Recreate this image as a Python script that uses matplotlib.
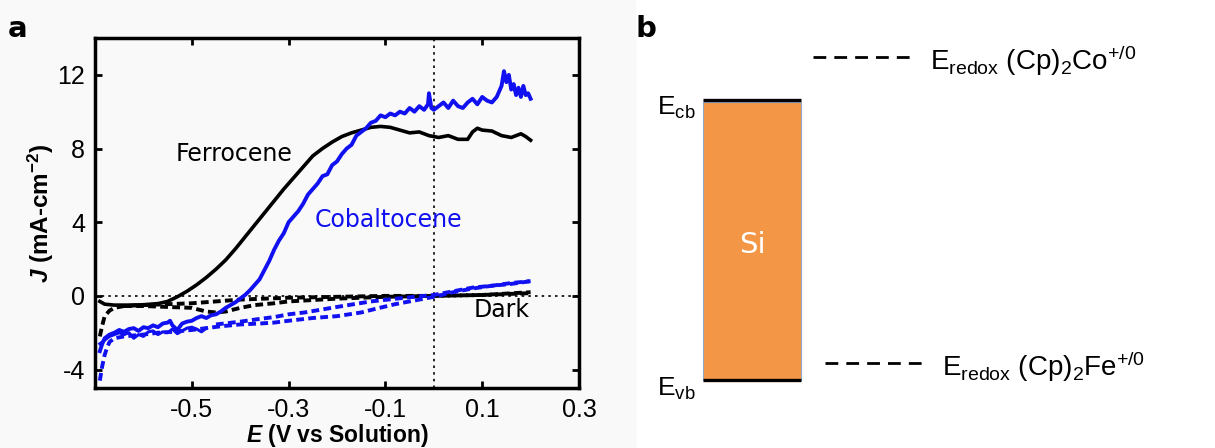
import numpy as np
import matplotlib
matplotlib.use("Agg")
import matplotlib.pyplot as plt
from matplotlib.patches import Rectangle

plt.rcParams.update({"font.family": "Liberation Sans", "mathtext.fontset": "custom",
                     "mathtext.rm": "Liberation Sans", "mathtext.it": "Liberation Sans:italic",
                     "mathtext.bf": "Liberation Sans:bold", "mathtext.bfit": "Liberation Sans:italic:bold",
                     "axes.unicode_minus": False})

BLUE = "#1010f0"
ORANGE = "#f39646"

# --- panel a: J-E curves (E in V vs solution, J in mA cm^-2) ---
ferro_E = [-0.69, -0.68, -0.66, -0.63, -0.60, -0.57, -0.55, -0.53, -0.51, -0.49, -0.47, -0.45,
           -0.43, -0.41, -0.39, -0.37, -0.35, -0.33, -0.31, -0.29, -0.27, -0.25, -0.23, -0.21,
           -0.19, -0.17, -0.15, -0.13, -0.11, -0.09, -0.07, -0.05, -0.03, -0.01, 0.01, 0.03,
           0.05, 0.07, 0.08, 0.09, 0.10, 0.12, 0.14, 0.16, 0.18, 0.19, 0.20]
ferro_J = [-0.3, -0.45, -0.5, -0.5, -0.48, -0.42, -0.3, -0.05, 0.25, 0.6, 1.0, 1.45,
           1.95, 2.55, 3.2, 3.85, 4.5, 5.15, 5.8, 6.4, 7.0, 7.6, 8.0, 8.35,
           8.65, 8.85, 9.0, 9.15, 9.2, 9.15, 9.0, 8.85, 8.9, 8.7, 8.6, 8.7,
           8.5, 8.5, 8.9, 9.1, 9.0, 8.95, 8.7, 8.6, 8.8, 8.65, 8.45]

cobalt_E = [-0.690, -0.685, -0.680, -0.670, -0.660, -0.650, -0.640, -0.630, -0.620, -0.610,
            -0.600, -0.590, -0.580, -0.570, -0.560, -0.550, -0.545, -0.540, -0.530, -0.520,
            -0.510, -0.500, -0.490, -0.480, -0.470, -0.460, -0.450, -0.440, -0.430, -0.420,
            -0.410, -0.400, -0.390, -0.380, -0.370, -0.360, -0.350, -0.340, -0.330, -0.320,
            -0.310, -0.300, -0.290, -0.280, -0.270, -0.260, -0.250, -0.240, -0.230, -0.220,
            -0.210, -0.200, -0.190, -0.180, -0.170, -0.160, -0.150, -0.140, -0.130, -0.120,
            -0.110, -0.100, -0.090, -0.080, -0.070, -0.060, -0.050, -0.040, -0.030, -0.020,
            -0.012, -0.010, -0.005, 0.000, 0.010, 0.020, 0.030, 0.040, 0.050, 0.060,
            0.070, 0.080, 0.090, 0.100, 0.110, 0.120, 0.130, 0.140, 0.145, 0.150,
            0.155, 0.160, 0.165, 0.170, 0.175, 0.180, 0.185, 0.190, 0.195, 0.200]
cobalt_J = [-3.0, -2.6, -2.3, -2.1, -2.0, -1.85, -1.95, -1.8, -1.75, -1.9,
            -1.7, -1.75, -1.6, -1.7, -1.5, -1.45, -1.35, -1.6, -1.85, -1.5,
            -1.4, -1.35, -1.2, -1.1, -1.2, -1.05, -1.0, -0.85, -0.65, -0.5,
            -0.35, -0.15, 0.05, 0.3, 0.6, 0.9, 1.4, 1.9, 2.5, 3.0,
            3.4, 4.0, 4.3, 4.6, 5.0, 5.5, 5.8, 6.1, 6.5, 6.6,
            7.1, 7.3, 7.7, 8.0, 8.2, 8.7, 8.9, 9.1, 9.4, 9.5,
            9.8, 9.7, 9.9, 9.8, 10.0, 9.9, 10.2, 10.0, 10.3, 10.1,
            10.4, 11.0, 10.2, 10.1, 10.3, 10.5, 10.2, 10.6, 10.3, 10.2,
            10.5, 10.7, 10.4, 10.8, 10.6, 10.5, 10.8, 11.4, 12.2, 11.6,
            12.0, 11.2, 11.5, 10.9, 11.3, 10.8, 11.4, 10.9, 11.0, 10.7]

cobalt_ret_E = [-0.69, -0.68, -0.67, -0.66, -0.65, -0.64, -0.63, -0.62, -0.61, -0.60, -0.59,
                -0.58, -0.57, -0.56, -0.55, -0.54, -0.53, -0.52, -0.51, -0.50, -0.49, -0.48, -0.47]
cobalt_ret_J = [-2.6, -2.4, -2.2, -2.1, -2.0, -2.1, -2.0, -2.3, -2.1, -2.2, -1.95,
                -1.9, -2.1, -1.95, -2.0, -1.8, -2.05, -1.9, -1.75, -1.7, -1.8, -1.95, -1.75]

dark_co_E1 = [-0.69, -0.685, -0.68, -0.675, -0.67, -0.66, -0.64, -0.62, -0.60, -0.57, -0.54, -0.50,
              -0.47, -0.44, -0.40, -0.36, -0.33, -0.30, -0.25, -0.20, -0.15, -0.12, -0.08, -0.04,
              0.0, 0.04, 0.08, 0.12, 0.16, 0.20]
dark_co_J1 = [-4.6, -3.8, -3.2, -2.8, -2.5, -2.3, -2.2, -2.15, -2.1, -2.0, -1.95, -1.85,
              -1.75, -1.65, -1.55, -1.5, -1.45, -1.35, -1.2, -1.1, -0.9, -0.7, -0.45, -0.25,
              -0.05, 0.2, 0.4, 0.55, 0.65, 0.8]
dark_co_E2 = [-0.45, -0.40, -0.36, -0.33, -0.30, -0.267, -0.20, -0.13, -0.06, 0.0, 0.04, 0.08,
              0.12, 0.16, 0.20]
dark_co_J2 = [-1.55, -1.4, -1.25, -1.15, -1.0, -0.9, -0.6, -0.3, -0.1, 0.05, 0.25, 0.45,
              0.55, 0.7, 0.8]

dark_fe_E1 = [-0.69, -0.685, -0.68, -0.67, -0.66, -0.64, -0.60, -0.55, -0.50, -0.45, -0.40,
              -0.35, -0.30, -0.20, -0.10, 0.0, 0.10, 0.20]
dark_fe_J1 = [-2.2, -1.6, -1.1, -0.8, -0.65, -0.55, -0.5, -0.45, -0.4, -0.3, -0.2,
              -0.15, -0.1, -0.05, 0.0, 0.0, 0.05, 0.2]
dark_fe_E2 = [-0.64, -0.60, -0.55, -0.50, -0.47, -0.45, -0.43, -0.40, -0.37, -0.33, -0.30,
              -0.20, -0.10, 0.0, 0.10, 0.20]
dark_fe_J2 = [-0.55, -0.55, -0.6, -0.65, -0.85, -0.9, -0.85, -0.65, -0.5, -0.4, -0.3,
              -0.15, -0.05, 0.0, 0.05, 0.15]

x_ticks = [-0.5, -0.3, -0.1, 0.1, 0.3]
y_ticks = [-4, 0, 4, 8, 12]

# --- panel b: band diagram energies (eV, relative to Si conduction band) ---
band_cb, band_vb = 0.0, -1.12
redox_levels = [0.17, -1.05]
redox_labels = [r"$\mathrm{E_{redox}\ (Cp)_2Co^{+/0}}$", r"$\mathrm{E_{redox}\ (Cp)_2Fe^{+/0}}$"]

W, H = 1215, 448
fig = plt.figure(figsize=(W / 100, H / 100), dpi=100, facecolor="white")
fig.patches.append(Rectangle((0, 0), 635 / W, 1, transform=fig.transFigure,
                             color="#f9f9f9", zorder=-10))

ax = fig.add_axes([95 / W, 60 / H, 484 / W, 350 / H])
ax.set_facecolor("none")
dash = (0, (2.0, 1.1))
ax.axhline(0, color="black", ls=(0, (1.5, 2.5)), lw=1.2, zorder=1)
ax.axvline(0, color="black", ls=(0, (1.5, 2.5)), lw=1.2, zorder=1)
ax.plot(dark_fe_E1, dark_fe_J1, color="black", ls=dash, lw=2.8)
ax.plot(dark_fe_E2, dark_fe_J2, color="black", ls=dash, lw=2.8)
ax.plot(dark_co_E1, dark_co_J1, color=BLUE, ls=dash, lw=2.8)
ax.plot(dark_co_E2, dark_co_J2, color=BLUE, ls=dash, lw=2.8)
ax.plot(ferro_E, ferro_J, color="black", lw=2.6)
ax.plot(cobalt_ret_E, cobalt_ret_J, color=BLUE, lw=2.2)
ax.plot(cobalt_E, cobalt_J, color=BLUE, lw=2.8)

ax.text(-0.533, 7.7, "Ferrocene", family="DejaVu Sans", fontsize=17, va="center", ha="left")
ax.text(-0.246, 4.1, "Cobaltocene", family="DejaVu Sans", fontsize=17, va="center", ha="left",
        color=BLUE)
ax.text(0.083, -0.75, "Dark", family="DejaVu Sans", fontsize=17, va="center", ha="left")

ax.set_xlim(-0.7, 0.3)
ax.set_ylim(-5, 14)
ax.set_xticks(x_ticks)
ax.set_xticklabels([f"{t:.1f}" for t in x_ticks])
ax.set_yticks(y_ticks)
ax.tick_params(direction="in", top=True, right=True, length=5, width=2, labelsize=18, pad=7)
for s in ax.spines.values():
    s.set_linewidth(2.5)
ax.set_xlabel(r"$\mathbfit{E}$ (V vs Solution)", fontsize=16.5, fontweight="bold", labelpad=0)
ax.set_ylabel(r"$\mathbfit{J}$ (mA-cm$^{\mathbf{-2}}$)", fontsize=17.5, fontweight="bold", labelpad=1)

fig.text(8 / W, 1 - 37 / H, "a", fontsize=21, fontweight="bold", family="DejaVu Sans", va="baseline")
fig.text(636 / W, 1 - 37 / H, "b", fontsize=21, fontweight="bold", family="DejaVu Sans", va="baseline")

# band diagram axes: x in px from 620, y in eV (250 px per eV, cb at y=100 px)
axb = fig.add_axes([620 / W, 0, (W - 620) / W, 1])
axb.set_xlim(0, W - 620)
axb.set_ylim((100 - H) / 250, 100 / 250)
axb.axis("off")
axb.add_patch(Rectangle((83, band_vb), 98, band_cb - band_vb - 0.008, facecolor=ORANGE,
                        edgecolor="#8faacc", lw=0.8))
axb.plot([83, 181], [band_cb, band_cb], color="black", lw=2.4, solid_capstyle="butt")
axb.plot([83, 181], [band_vb, band_vb], color="black", lw=2.4, solid_capstyle="butt")
axb.text(132, (band_cb + band_vb) / 2 - 0.02, "Si", color="white", fontsize=21,
         family="DejaVu Sans", ha="center", va="center")
axb.text(37, band_cb - 0.03, r"$\mathrm{E_{cb}}$", fontsize=19, ha="left", va="center")
axb.text(37, band_vb - 0.035, r"$\mathrm{E_{vb}}$", fontsize=19, ha="left", va="center")
for lvl, lab, x0 in zip(redox_levels, redox_labels, [193, 205]):
    axb.plot([x0, x0 + 97], [lvl, lvl], color="black", lw=2.0, ls=(0, (4.6, 2.9)))
    axb.text(x0 + 117, lvl - 0.015, lab, fontsize=20, ha="left", va="center")

fig.savefig("out.png", dpi=100, facecolor=fig.get_facecolor())
